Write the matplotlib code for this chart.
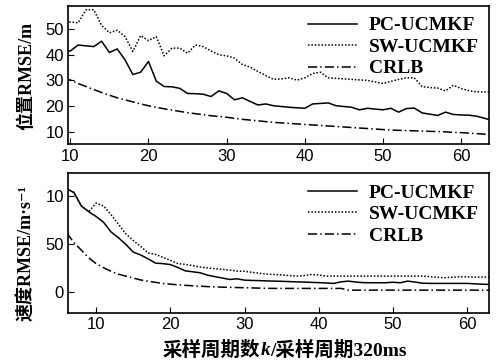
import numpy as np
import matplotlib
matplotlib.use("Agg")
import matplotlib.pyplot as plt

# position RMSE, sampling periods 9..64
k_pos = np.arange(9, 65)
pc_pos = [41.0, 41.5, 43.8, 43.5, 43.2, 45.3, 40.9, 42.3, 38.0, 32.3, 33.2,
          37.4, 29.7, 27.6, 27.5, 26.9, 24.9, 24.8, 24.6, 23.7, 25.9,
          24.9, 22.4, 23.2, 21.8, 20.4, 20.8, 20.1, 19.8, 19.5, 19.3,
          19.1, 20.8, 21.0, 21.2, 20.1, 19.8, 19.5, 18.5, 19.1, 18.8,
          18.5, 19.1, 17.6, 19.0, 19.2, 17.3, 16.8, 16.3, 17.6, 16.7,
          16.5, 16.4, 16.0, 15.2, 14.3]
sw_pos = [52.5, 52.8, 52.5, 57.6, 57.6, 51.5, 48.6, 49.6, 47.1, 41.3, 47.5,
          45.5, 47.1, 39.6, 42.6, 42.6, 40.6, 43.8, 43.2, 41.5, 40.0,
          39.6, 38.7, 36.2, 35.2, 33.5, 31.9, 30.4, 30.6, 31.0, 30.1,
          31.0, 32.7, 33.2, 31.0, 30.8, 30.6, 30.4, 30.2, 30.0, 29.4,
          28.8, 29.6, 30.4, 31.0, 31.0, 27.6, 27.2, 27.0, 25.9, 28.1,
          26.8, 26.0, 25.5, 25.5, 25.3]
crlb_pos = [31.0, 30.2, 28.8, 27.6, 26.4, 25.3, 24.2, 23.2, 22.4, 21.6, 20.8,
            20.1, 19.5, 18.9, 18.4, 17.9, 17.4, 17.0, 16.6, 16.2, 15.9,
            15.6, 15.2, 14.8, 14.5, 14.2, 13.9, 13.6, 13.4, 13.2, 13.0,
            12.8, 12.6, 12.4, 12.2, 12.0, 11.8, 11.6, 11.4, 11.2, 11.0,
            10.8, 10.6, 10.5, 10.4, 10.3, 10.2, 10.1, 10.0, 9.9, 9.7,
            9.6, 9.4, 9.2, 9.0, 8.8]

# velocity RMSE, sampling periods 6..63
k_vel = np.arange(6, 64)
pc_vel = [108, 104, 90, 84, 79, 73, 63, 57, 50, 42, 39, 35, 30.5, 30, 29,
          26, 22.5, 21.5, 20.5, 18, 16.5, 15, 13.5, 14.2, 12.8, 12.5, 12.3,
          12.0, 11.8, 11.6, 11.3, 11.0, 10.8, 10.5, 10.2, 9.9, 9.4, 11.0,
          11.8, 10.8, 10.2, 10.1, 10.1, 10.1, 10.6, 10.1, 11.8, 10.8, 9.6,
          9.4, 9.4, 9.4, 9.4, 9.4, 9.4, 9.0, 8.6, 8.3]
sw_vel = [108, 104, 90, 84, 93, 90, 81, 71, 61, 54, 48, 41, 39.6, 36.5,
          33.5, 30, 29.2, 28, 26.4, 25.5, 24.7, 24, 23.3, 22.2, 22, 21,
          20, 19, 18.7, 18.2, 17.6, 17.0, 17.5, 18.7, 18.2, 17.0, 17.0,
          17.0, 17.0, 17.0, 17.0, 17.0, 17.0, 17.0, 17.0, 17.0, 17.0, 17.0,
          17.0, 16.5, 15.8, 15.3, 15.8, 16.3, 16.2, 16.0, 16.0, 16.0]
crlb_vel = [62, 52, 44, 36, 30, 25.7, 22, 19, 17, 15, 13, 11.8, 10.5, 9.3,
            8.6, 8.0, 7.4, 6.9, 6.5, 6.1, 5.8, 5.5, 5.3, 5.1, 4.9, 4.7, 4.5,
            4.3, 4.2, 4.2, 4.2, 4.2, 4.2, 4.2, 4.2, 4.2, 4.2, 4.2, 2.4, 2.4,
            2.4, 2.4, 2.4, 2.4, 2.4, 2.4, 2.4, 2.4, 2.4, 2.4, 2.4, 2.4, 2.4,
            2.4, 2.4, 2.4, 2.4, 2.4]

series_names = ["PC-UCMKF", "SW-UCMKF", "CRLB"]
line_styles = ["-", (0, (1, 1.2)), (0, (6, 2, 1, 2))]

plt.rcParams["font.family"] = ["Liberation Sans"]
fig = plt.figure(figsize=(4.98, 3.61), dpi=100)
ax1 = fig.add_axes([0.1365, 0.600, 0.846, 0.383])
ax2 = fig.add_axes([0.1365, 0.134, 0.846, 0.386])

for y, ls, name in zip([pc_pos, sw_pos, crlb_pos], line_styles, series_names):
    ax1.plot(k_pos, y, color="black", lw=1.1, ls=ls, label=name)
for y, ls, name in zip([pc_vel, sw_vel, crlb_vel], line_styles, series_names):
    ax2.plot(k_vel, y, color="black", lw=1.1, ls=ls, label=name)

ax1.set_xlim(9.7, 63.6)
ax1.set_ylim(5, 59)
ax1.set_xticks([10, 20, 30, 40, 50, 60])
ax1.set_yticks([10, 20, 30, 40, 50])

ax2.set_xlim(6.2, 63)
ax2.set_ylim(-21, 124)
ax2.set_xticks([10, 20, 30, 40, 50, 60])
ax2.set_yticks([0, 50, 100])
ax2.set_yticklabels(["0", "50", "10"])

for ax in (ax1, ax2):
    ax.tick_params(direction="in", length=4, width=0.8, labelsize=12, pad=3,
                   colors="black")
    for s in ax.spines.values():
        s.set_linewidth(1.2)
    ax.legend(loc="upper right", frameon=False, handlelength=2.5,
              handletextpad=0.6, labelspacing=0.2, borderaxespad=0.15,
              prop={"family": "Liberation Serif", "weight": "bold", "size": 14})

fam = ["Liberation Serif", "Noto Sans CJK SC", "DejaVu Serif"]
fig.text(0.053, 0.79, "位置RMSE/m", rotation=90, ha="center", va="center",
         family=fam, weight="bold", size=13)
fig.text(0.053, 0.30, "速度RMSE/m·s⁻¹", rotation=90, ha="center",
         va="center", family=fam, weight="bold", size=13)

# x label pieces: the k is italic
pieces = [("采样周期数", "normal"), ("k", "italic"), ("/采样周期320ms", "normal")]
renderer = fig.canvas.get_renderer()
texts = []
x = 0.0
for s, st in pieces:
    t = fig.text(x, 0.03, s, ha="left", va="center", family=fam,
                 weight="bold", style=st, size=14)
    w = t.get_window_extent(renderer).width / fig.bbox.width
    texts.append((t, w))
    x += w
total = x
x = 0.572 - total / 2
for t, w in texts:
    t.set_x(x)
    x += w

fig.savefig("out.png", dpi=100)
